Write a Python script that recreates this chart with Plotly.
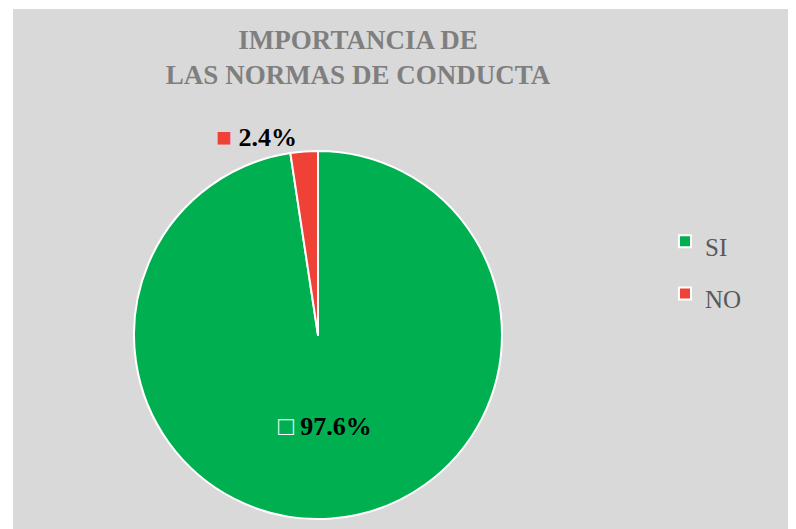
import plotly.graph_objects as go

labels = ["SI", "NO"]
values = [97.6, 2.4]
colors = ["#00b050", "#ef4136"]
title_lines = ["IMPORTANCIA DE", "LAS NORMAS DE CONDUCTA"]

# page body has an 8px margin, so the figure is 8px smaller each way
W, H = 788, 521

# legend entries: big legend font gives the tall rows, span keeps text small
legend_names = [f"<span style='font-size:25px'>{l}</span>" for l in labels]

fig = go.Figure(go.Pie(
    labels=legend_names,
    values=values,
    sort=False,
    direction="clockwise",
    rotation=0,
    marker=dict(colors=colors, line=dict(color="white", width=2)),
    texttemplate=[
        "<span style='color:white'>□</span> %{percent:.1%}",
        "<span style='color:#ef4136'>■</span> %{percent:.1%}",
    ],
    textposition=["inside", "outside"],
    insidetextorientation="horizontal",
    textfont=dict(family="Liberation Serif", size=26, color="black", weight="bold"),
    domain=dict(x=[126 / W, 494 / W], y=[1 - 511 / H, 1 - 143 / H]),
    hovertemplate="%{value}%<extra></extra>",
))

fig.update_layout(
    width=W, height=H,
    margin=dict(l=0, r=0, t=0, b=0),
    paper_bgcolor="#d9d9d9",
    title=dict(
        text="<br>".join(title_lines),
        x=350 / W, xanchor="center",
        y=1 - 41 / H, yanchor="top",
        font=dict(family="Liberation Serif", size=27, color="#7f7f7f", weight="bold"),
    ),
    legend=dict(
        x=657 / W, y=1 - 202 / H, xanchor="left", yanchor="top",
        font=dict(family="Liberation Serif", size=38, color="#595959"),
        bgcolor="rgba(0,0,0,0)",
    ),
    shapes=[
        dict(type="rect", xref="paper", yref="paper", x0=0, x1=5 / W, y0=0, y1=1,
             fillcolor="white", line=dict(width=0), layer="below"),
        dict(type="rect", xref="paper", yref="paper", x0=0, x1=1, y0=1 - 1 / H, y1=1,
             fillcolor="white", line=dict(width=0), layer="below"),
    ],
)

fig.write_html("out.html")
